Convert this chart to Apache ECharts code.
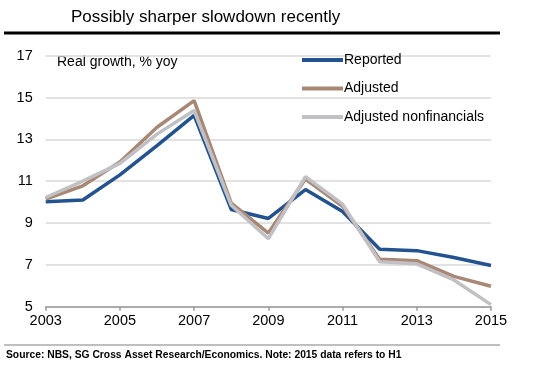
<!DOCTYPE html>
<html><head><meta charset="utf-8">
<script src="https://cdn.jsdelivr.net/npm/echarts@6/dist/echarts.min.js"></script>
<style>html,body{margin:0;padding:0;background:#fff}#c{width:541px;height:378px}</style>
</head><body><div id="c"></div>
<script>
const years = ['2003','2004','2005','2006','2007','2008','2009','2010','2011','2012','2013','2014','2015'];
const reported = [10.02, 10.1, 11.3, 12.7, 14.15, 9.65, 9.22, 10.6, 9.55, 7.75, 7.68, 7.35, 6.97];
const adjusted = [10.15, 10.78, 11.92, 13.58, 14.85, 9.95, 8.52, 11.1, 9.8, 7.27, 7.2, 6.45, 5.98];
const adjustedNonfin = [10.22, 11.0, 11.85, 13.25, 14.38, 9.85, 8.25, 11.22, 9.9, 7.15, 7.05, 6.28, 5.1];
const yTicks = {min: 5, max: 17, interval: 2};

const chart = echarts.init(document.getElementById('c'), null, {renderer: 'canvas'});
const F = 'Liberation Sans, Arial, sans-serif';
chart.setOption({
  animation: false,
  backgroundColor: '#fff',
  title: {
    text: 'Possibly sharper slowdown recently',
    left: 71, top: 9, padding: 0,
    textStyle: {fontFamily: F, fontSize: 17, fontWeight: 'normal', color: '#000'}
  },
  graphic: [
    {type: 'rect', shape: {x: 4, y: 31.5, width: 496, height: 3}, style: {fill: '#000'}},
    {type: 'rect', shape: {x: 4, y: 344.5, width: 496, height: 1}, style: {fill: '#808080'}},
    {type: 'text', left: 6, top: 350.5, style: {text: 'Source: NBS, SG Cross Asset Research/Economics. Note: 2015 data refers to H1', font: 'bold 10.3px Liberation Sans, Arial, sans-serif', fill: '#000'}},
    {type: 'text', left: 57, top: 55.5, style: {text: 'Real growth, % yoy', font: '14px Liberation Sans, Arial, sans-serif', fill: '#000'}}
  ],
  legend: {
    orient: 'vertical', left: 302, top: 53, padding: 0,
    itemWidth: 41, itemHeight: 4, itemGap: 14.5,
    icon: 'rect',
    textStyle: {fontFamily: F, fontSize: 14, color: '#000', padding: [0,0,0,-4]},
    data: ['Reported', 'Adjusted', 'Adjusted nonfinancials']
  },
  grid: {left: 45.7, right: 50, top: 55.7, bottom: 71.3},
  xAxis: {
    type: 'category', data: years, boundaryGap: false,
    axisLine: {lineStyle: {color: '#9a9a9a', width: 1.5}},
    axisTick: {interval: 1, length: 4, lineStyle: {color: '#9a9a9a', width: 1.5}},
    axisLabel: {interval: 1, fontFamily: F, fontSize: 14.5, color: '#000', margin: 7},
    splitLine: {show: false}
  },
  yAxis: {
    type: 'value', min: yTicks.min, max: yTicks.max, interval: yTicks.interval,
    axisLine: {show: false}, axisTick: {show: false},
    axisLabel: {fontFamily: F, fontSize: 14.5, color: '#000', margin: 13},
    splitLine: {lineStyle: {color: '#d9d9d9', width: 1.5}}
  },
  series: [
    {name: 'Reported', type: 'line', data: reported, symbol: 'none', color: '#22538f', lineStyle: {width: 3.5, color: '#22538f'}, z: 2},
    {name: 'Adjusted', type: 'line', data: adjusted, symbol: 'none', color: '#a98775', lineStyle: {width: 3.5, color: '#a98775'}, z: 3},
    {name: 'Adjusted nonfinancials', type: 'line', data: adjustedNonfin, symbol: 'none', color: '#c0c0c5', lineStyle: {width: 3.5, color: '#c0c0c5'}, z: 4}
  ]
});
</script></body></html>
